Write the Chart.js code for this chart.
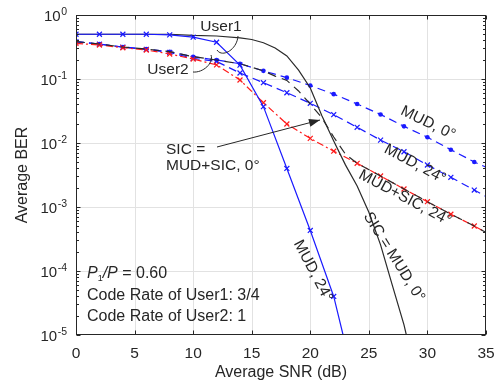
<!DOCTYPE html>
<html>
<head>
<meta charset="utf-8">
<script src="https://cdn.jsdelivr.net/npm/chart.js@4.4.1/dist/chart.umd.min.js"></script>
<style>
  body { margin: 0; background: #fff; }
  .chart-box { width: 497px; height: 385px; }
</style>
</head>
<body>
<div class="chart-box"><canvas id="berChart"></canvas></div>
<script>
// SNR points (dB) and BER values per curve
const snrGrid = [0, 2, 4, 6, 8, 10, 12, 14, 16, 18, 20, 22, 24, 26, 28, 30, 32, 34, 35];
const berMud0 = [0.385, 0.352, 0.316, 0.294, 0.267, 0.223, 0.198, 0.173, 0.134, 0.105, 0.079, 0.058, 0.0407, 0.0279, 0.0182, 0.0123, 0.00786, 0.00505, 0.0042];
const berMud24 = [0.38, 0.35, 0.315, 0.29, 0.26, 0.21, 0.188, 0.124, 0.0875, 0.061, 0.0417, 0.0277, 0.0176, 0.0111, 0.0073, 0.00453, 0.00291, 0.00184, 0.00146];
const berMudSic24 = [0.36, 0.34, 0.308, 0.284, 0.246, 0.205, 0.166, 0.0965, 0.0426, 0.0198, 0.0118, 0.00745, 0.00482, 0.00305, 0.00191, 0.00121, 0.00077, 0.000505, 0.0004];

const snrUser1 = [0, 2, 4, 6, 8, 10, 12, 14, 16, 18, 20, 22, 22.8];
const berUser1Mud24 = [0.5, 0.5, 0.5, 0.5, 0.49, 0.45, 0.375, 0.165, 0.037, 0.004, 0.00043, 0.00004, 0.00001];

const snrSic = [0, 2, 4, 6, 8, 10, 12, 14, 15, 16, 17, 18, 19, 20, 21, 22, 23, 24, 25, 26, 27, 28, 28.2];
const berSic0 = [0.5, 0.5, 0.5, 0.5, 0.5, 0.48, 0.47, 0.44, 0.414, 0.369, 0.305, 0.229, 0.138, 0.0724, 0.0264, 0.0107, 0.00455, 0.00213, 0.00083, 0.000256, 0.00006, 0.0000144, 0.00001];

const snrMudSic0 = [0, 2, 4, 6, 8, 10, 12, 14, 16, 17, 18, 19, 20, 21, 22, 23, 24, 26, 28, 30, 32, 34, 35];
const berMudSic0 = [0.385, 0.352, 0.316, 0.294, 0.267, 0.223, 0.198, 0.173, 0.134, 0.111, 0.095, 0.065, 0.0407, 0.0246, 0.0124, 0.0067, 0.00482, 0.00305, 0.00191, 0.00121, 0.00077, 0.000505, 0.0004];

const xTicks = [0, 5, 10, 15, 20, 25, 30, 35];
const decades = [0, -1, -2, -3, -4, -5];

const FONT = "'Liberation Sans', Arial, sans-serif";
const INK = '#262626';

function pts(xs, ys) {
  return xs.map((x, i) => ({ x: x, y: ys[i] }));
}

// markers only on the even dB points
function markerAt(r) {
  return ctx => {
    const v = ctx.raw;
    return (v && Number.isInteger(v.x) && v.x % 2 === 0) ? r : 0;
  };
}

function line(ctx, x1, y1, x2, y2) {
  ctx.beginPath();
  ctx.moveTo(x1, y1);
  ctx.lineTo(x2, y2);
  ctx.stroke();
}

function rotText(ctx, txt, x, y, deg) {
  ctx.save();
  ctx.translate(x, y);
  ctx.rotate(deg * Math.PI / 180);
  ctx.textAlign = 'center';
  ctx.textBaseline = 'middle';
  ctx.fillText(txt, 0, 0);
  ctx.restore();
}

// grid, box, ticks, log labels and notes drawn around the datasets
const frame = {
  id: 'frame',
  beforeDatasetsDraw(chart) {
    const { ctx, chartArea: a, scales: { x, y } } = chart;
    ctx.save();
    ctx.strokeStyle = '#e2e2e2';
    ctx.lineWidth = 1;
    for (let e = -4; e <= -1; e++) {
      const py = Math.round(y.getPixelForValue(Math.pow(10, e))) + 0.5;
      line(ctx, a.left, py, a.right, py);
    }
    xTicks.slice(1, -1).forEach(s => {
      const px = Math.round(x.getPixelForValue(s)) + 0.5;
      line(ctx, px, a.top, px, a.bottom);
    });
    ctx.restore();
  },
  afterDatasetsDraw(chart) {
    const { ctx, chartArea: a, scales: { x, y } } = chart;
    ctx.save();
    ctx.strokeStyle = INK;
    ctx.lineWidth = 1;
    const L = Math.round(a.left) + 0.5, R = Math.round(a.right) - 0.5;
    const T = Math.round(a.top) + 0.5, B = Math.round(a.bottom) - 0.5;
    ctx.strokeRect(L, T, R - L, B - T);

    // x ticks, bottom and top
    xTicks.forEach(s => {
      const px = Math.round(x.getPixelForValue(s)) + 0.5;
      line(ctx, px, B, px, B - 4);
      line(ctx, px, T, px, T + 4);
    });
    // y ticks, decades and minor
    for (let e = -5; e <= 0; e++) {
      for (let m = 1; m <= 9; m++) {
        const v = m * Math.pow(10, e);
        if (v > 1) break;
        const py = Math.round(y.getPixelForValue(v)) + 0.5;
        const len = m === 1 ? 4 : 2.5;
        line(ctx, L, py, L + len, py);
        line(ctx, R, py, R - len, py);
      }
    }

    // y tick labels as 10 with exponent
    ctx.fillStyle = INK;
    decades.forEach(e => {
      const py = y.getPixelForValue(Math.pow(10, e));
      const exp = e === 0 ? '0' : '-' + (-e);
      ctx.font = '10.5px ' + FONT;
      const w2 = ctx.measureText(exp).width;
      const xr = 67;
      ctx.textBaseline = 'middle';
      ctx.textAlign = 'left';
      ctx.fillText(exp, xr - w2, py - 3);
      ctx.font = '15px ' + FONT;
      ctx.textAlign = 'right';
      ctx.fillText('10', xr - w2 - 0.5, py + 2);
    });

    // curve notes
    ctx.font = '15.5px ' + FONT;
    ctx.textAlign = 'center';
    ctx.textBaseline = 'middle';
    ctx.fillText('User1', 221, 27);
    ctx.fillText('User2', 168, 70);
    ctx.textAlign = 'left';
    ctx.fillText('SIC =', 166, 150);
    ctx.fillText('MUD+SIC, 0°', 166, 165.5);

    rotText(ctx, 'MUD, 0°', 428, 123, 26);
    rotText(ctx, 'MUD, 24°', 415, 164, 28);
    rotText(ctx, 'MUD+SIC, 24°', 405, 198, 28);
    rotText(ctx, 'SIC = MUD, 0°', 394, 257, 58);
    rotText(ctx, 'MUD, 24°', 313, 271, 62);

    // user hooks
    ctx.lineWidth = 1;
    ctx.beginPath();
    ctx.moveTo(238, 36);
    ctx.bezierCurveTo(237, 50, 222, 58, 217, 50);
    ctx.stroke();
    ctx.beginPath();
    ctx.moveTo(193, 72);
    ctx.bezierCurveTo(203, 73, 214, 63, 211, 55);
    ctx.stroke();

    // arrow to the SIC / MUD+SIC meeting point
    const ax = 217, ay = 147, bx = 320, by = 120;
    line(ctx, ax, ay, bx, by);
    const ang = Math.atan2(by - ay, bx - ax);
    ctx.beginPath();
    ctx.moveTo(bx, by);
    ctx.lineTo(bx - 11 * Math.cos(ang) + 4 * Math.sin(ang), by - 11 * Math.sin(ang) - 4 * Math.cos(ang));
    ctx.lineTo(bx - 11 * Math.cos(ang) - 4 * Math.sin(ang), by - 11 * Math.sin(ang) + 4 * Math.cos(ang));
    ctx.closePath();
    ctx.fill();

    // settings box text
    ctx.textAlign = 'left';
    let cx = 87;
    ctx.font = 'italic 16px ' + FONT;
    ctx.fillText('P', cx, 274);
    cx += ctx.measureText('P').width;
    ctx.font = '9px ' + FONT;
    ctx.fillText('1', cx, 279);
    cx += ctx.measureText('1').width;
    ctx.font = 'italic 16px ' + FONT;
    ctx.fillText('/P', cx, 274);
    cx += ctx.measureText('/P').width;
    ctx.font = '16px ' + FONT;
    ctx.fillText(' = 0.60', cx, 274);
    ctx.fillText('Code Rate of User1: 3/4', 87, 295.5);
    ctx.fillText('Code Rate of User2: 1', 87, 316.5);
    ctx.restore();
  }
};

const canvas = document.getElementById('berChart');

new Chart(canvas, {
  type: 'line',
  data: {
    datasets: [
      {
        label: 'MUD, 24° (User1)',
        data: pts(snrUser1, berUser1Mud24),
        borderColor: '#1a1aff',
        backgroundColor: '#1a1aff',
        borderWidth: 1.2,
        pointStyle: 'crossRot',
        pointRadius: markerAt(3.5),
        pointBorderWidth: 1.2
      },
      {
        label: 'SIC = MUD, 0°',
        data: pts(snrSic, berSic0),
        borderColor: '#2a2a2a',
        borderWidth: 1.2,
        pointRadius: 0
      },
      {
        label: 'MUD+SIC, 0°',
        data: pts(snrMudSic0, berMudSic0),
        borderColor: '#2a2a2a',
        borderWidth: 1.2,
        borderDash: [9, 6],
        pointRadius: 0
      },
      {
        label: 'MUD+SIC, 24°',
        data: pts(snrGrid, berMudSic24),
        borderColor: '#ff1a1a',
        backgroundColor: '#ff1a1a',
        borderWidth: 1.2,
        borderDash: [7, 3, 2, 3],
        pointStyle: 'crossRot',
        pointRadius: markerAt(3.5),
        pointBorderWidth: 1.2
      },
      {
        label: 'MUD, 24°',
        data: pts(snrGrid, berMud24),
        borderColor: '#1a1aff',
        backgroundColor: '#1a1aff',
        borderWidth: 1.2,
        borderDash: [8, 5],
        pointStyle: 'crossRot',
        pointRadius: markerAt(3.5),
        pointBorderWidth: 1.2
      },
      {
        label: 'MUD, 0°',
        data: pts(snrGrid, berMud0),
        borderColor: '#1a1aff',
        backgroundColor: '#1a1aff',
        borderWidth: 1.2,
        borderDash: [8, 5],
        pointStyle: 'circle',
        pointRadius: markerAt(2.3),
        pointBorderWidth: 0
      }
    ]
  },
  options: {
    responsive: true,
    maintainAspectRatio: false,
    animation: false,
    parsing: false,
    layout: { padding: { top: 15, right: 11, left: 0, bottom: 0 } },
    plugins: { legend: { display: false }, tooltip: { enabled: false } },
    scales: {
      x: {
        type: 'linear',
        min: 0,
        max: 35,
        afterFit: s => { s.height = 50; s.paddingLeft = 0; s.paddingRight = 0; },
        afterBuildTicks: s => { s.ticks = xTicks.map(v => ({ value: v })); },
        grid: { display: false, drawTicks: false },
        border: { display: false },
        ticks: { color: INK, font: { family: FONT, size: 15.5 }, padding: 9, maxRotation: 0 },
        title: {
          display: true,
          text: 'Average SNR (dB)',
          color: INK,
          font: { family: FONT, size: 16 },
          padding: { top: 0, bottom: 3 }
        }
      },
      y: {
        type: 'logarithmic',
        min: 1e-5,
        max: 1,
        afterFit: s => { s.width = 76; s.paddingTop = 0; s.paddingBottom = 0; },
        grid: { display: false },
        border: { display: false },
        ticks: { display: false },
        title: {
          display: true,
          text: 'Average BER',
          color: INK,
          font: { family: FONT, size: 16 },
          padding: { top: 12.5, bottom: 0 }
        }
      }
    }
  },
  plugins: [frame]
});
</script>
</body>
</html>
